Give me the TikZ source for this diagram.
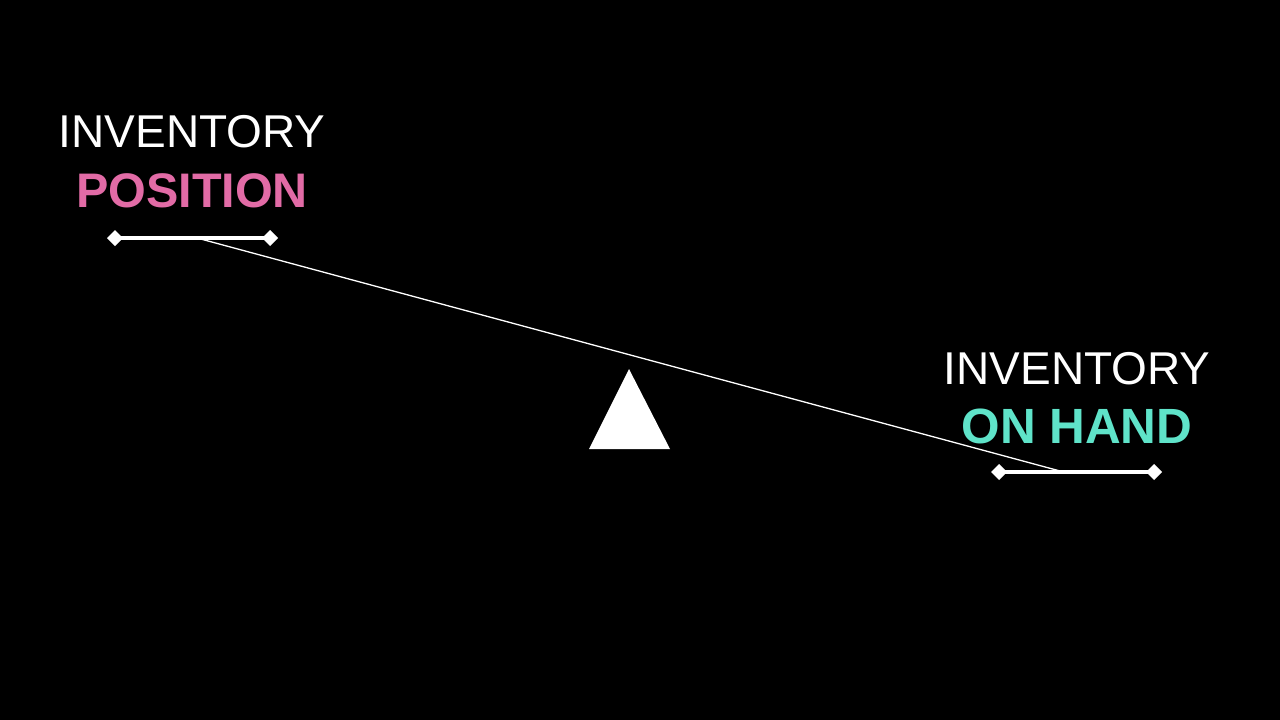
\documentclass[tikz,border=0pt]{standalone}
\usetikzlibrary{calc}
\usepackage{fontspec}
\setmainfont{Liberation Sans}
\definecolor{pinkc}{HTML}{E26BA6}
\definecolor{tealc}{HTML}{5FE3C9}
\begin{document}
\begin{tikzpicture}[x=1pt,y=-1pt,
  lbl/.style={text=white,font=\fontsize{46}{46}\selectfont,inner sep=0pt,anchor=base},
  bar/.style={white,line width=4pt}]
\fill[black] (0,0) rectangle (1280,720);
\useasboundingbox (0,0) rectangle (1280,720);
\node[lbl] (l1) at (192,147) {INVENTORY};
\node[lbl,text=pinkc,font=\fontsize{48.5}{48.5}\selectfont\bfseries] (l2) at (192,207) {POSITION};
\node[lbl] (r1) at (1077,384) {INVENTORY};
\node[lbl,text=tealc,font=\fontsize{49.5}{49.5}\selectfont\bfseries] (r2) at (1077,443) {ON HAND};
\coordinate (la) at (115,238); \coordinate (lb) at (270,238);
\coordinate (ra) at (999,472); \coordinate (rb) at (1154,472);
\draw[bar] (la) -- (lb);
\draw[bar] (ra) -- (rb);
\foreach \p in {la,lb,ra,rb} \fill[white] ($(\p)+(-8,0)$) -- ($(\p)+(0,-8)$) -- ($(\p)+(8,0)$) -- ($(\p)+(0,8)$) -- cycle;
\coordinate (b1) at (197,238); \coordinate (b2) at (1060,471);
\draw[white,line width=1.3pt] (b1) -- (b2);
\coordinate (t1) at (629,369); \coordinate (t2) at (589,449); \coordinate (t3) at (670,449);
\fill[white] (t1) -- (t2) -- (t3) -- cycle;
\end{tikzpicture}
\end{document}
